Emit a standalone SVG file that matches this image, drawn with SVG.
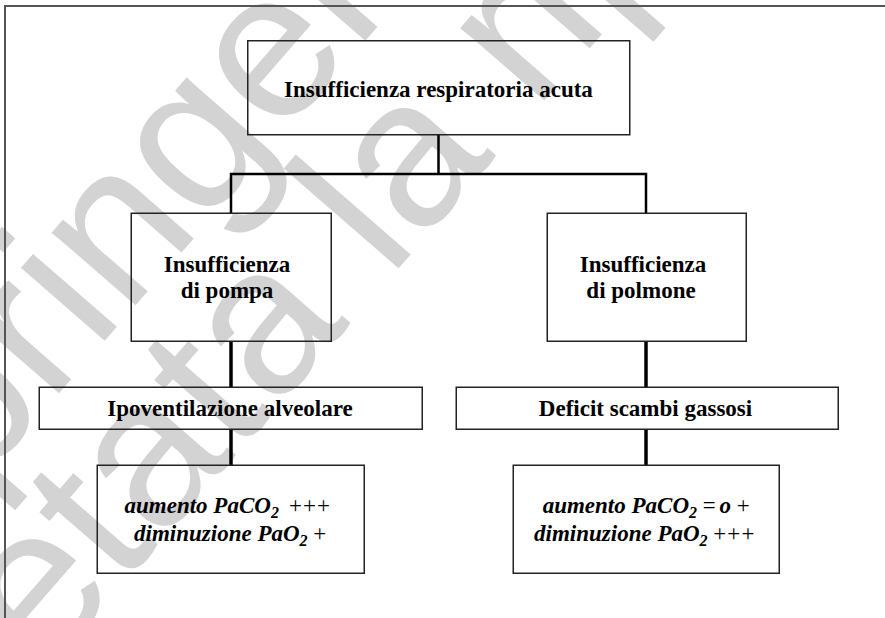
<svg xmlns="http://www.w3.org/2000/svg" width="885" height="618" viewBox="0 0 885 618">
<style>
.wm{font-family:"Liberation Sans",Arial,sans-serif;font-size:210px;fill:#d3d3d3}
.frame{fill:none;stroke:#555;stroke-width:2}
.box{fill:none;stroke:#222;stroke-width:1.5}
.c{fill:none;stroke:#000;stroke-width:2.5}
.c2{fill:none;stroke:#000;stroke-width:3.5}
.t{font-family:"Liberation Serif","Times New Roman",serif;font-weight:bold;font-size:23px;fill:#000;text-anchor:middle}
.it{font-style:italic}
.sub{font-size:16px}
.n{font-weight:normal;letter-spacing:-1.5px}
</style>
<rect width="885" height="618" fill="#fff"/>
<g id="watermark">
<text class="wm" transform="translate(-119,598) rotate(-49)">Springer</text>
<text class="wm" transform="translate(-55,790) rotate(-49)">vietata la riproduzione</text>
</g>
<path class="frame" d="M5,620 V6 H886"/>
<g id="connectors">
<path class="c" d="M438.5,135 V174"/>
<path class="c" d="M231,213 V174 H646 V213"/>
<path class="c2" d="M231,341 V387"/>
<path class="c2" d="M646,341 V387"/>
<path class="c2" d="M231,429 V465"/>
<path class="c2" d="M646,429 V465"/>
</g>
<g id="n-root">
<rect class="box" x="247.75" y="40.75" width="382" height="94"/>
<text class="t" x="438.5" y="97">Insufficienza respiratoria acuta</text>
</g>
<g id="n-pompa">
<rect class="box" x="131.25" y="213.25" width="200" height="128"/>
<text class="t" x="227" y="272">Insufficienza</text>
<text class="t" x="227" y="298">di pompa</text>
</g>
<g id="n-polmone">
<rect class="box" x="547.25" y="213.25" width="199" height="128"/>
<text class="t" x="643" y="272">Insufficienza</text>
<text class="t" x="641" y="298">di polmone</text>
</g>
<g id="n-ipovent">
<rect class="box" x="39.25" y="387.25" width="383" height="42"/>
<text class="t" x="230" y="416">Ipoventilazione alveolare</text>
</g>
<g id="n-deficit">
<rect class="box" x="456.25" y="387.25" width="382" height="42"/>
<text class="t" x="645.5" y="416">Deficit scambi gassosi</text>
</g>
<g id="n-effetti-pompa">
<rect class="box" x="97.25" y="465.25" width="267" height="108"/>
<text class="t it" x="227" y="513">aumento PaCO<tspan class="sub" dy="5">2</tspan><tspan class="n" dy="-5">&#160;&#160;+++</tspan></text>
<text class="t it" x="230" y="541">diminuzione PaO<tspan class="sub" dy="5">2</tspan><tspan class="n" dy="-5">&#160;+</tspan></text>
</g>
<g id="n-effetti-polmone">
<rect class="box" x="513.25" y="465.25" width="266" height="108"/>
<text class="t it" x="646" y="513">aumento PaCO<tspan class="sub" dy="5">2</tspan><tspan class="n" dy="-5">&#160;= </tspan><tspan>o</tspan><tspan class="n"> +</tspan></text>
<text class="t it" x="644" y="541">diminuzione PaO<tspan class="sub" dy="5">2</tspan><tspan class="n" dy="-5">&#160;+++</tspan></text>
</g>
</svg>
